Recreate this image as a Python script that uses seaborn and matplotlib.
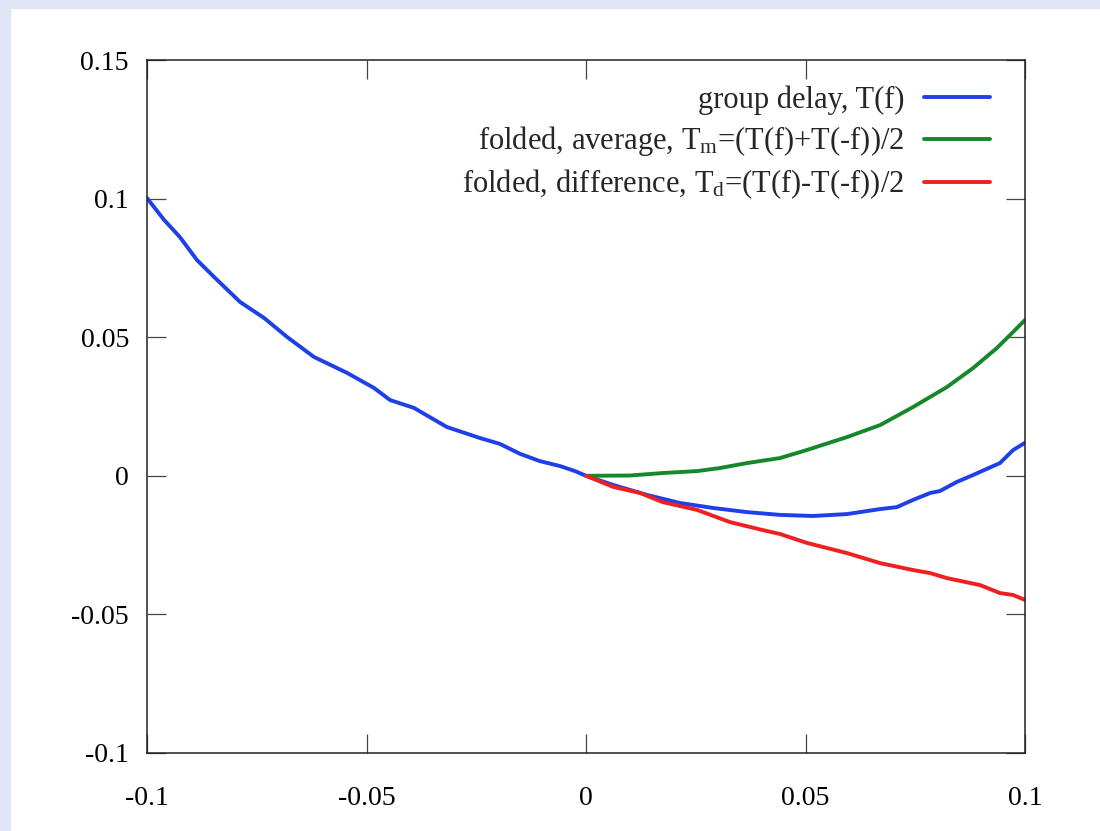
import numpy as np
import pandas as pd
import matplotlib
matplotlib.use("Agg")
import matplotlib.pyplot as plt
import seaborn as sns
from matplotlib.patches import Rectangle

# group delay T(f)
f_t = [-0.1, -0.0961, -0.0925, -0.0886, -0.0847, -0.0788, -0.0733, -0.0681,
       -0.0620, -0.0544, -0.0483, -0.0446, -0.0392, -0.0317, -0.0241, -0.0196,
       -0.0150, -0.0105, -0.0059, -0.0025, 0.0, 0.0062, 0.0139, 0.0214, 0.0289,
       0.0367, 0.0442, 0.0517, 0.0595, 0.0670, 0.0708, 0.0745, 0.0784, 0.0806,
       0.0845, 0.0882, 0.0943, 0.0973, 0.1]
t_vals = [0.1002, 0.0923, 0.0861, 0.0778, 0.0717, 0.0627, 0.0569, 0.0501,
          0.0429, 0.0371, 0.0317, 0.0273, 0.0245, 0.0176, 0.0136, 0.0115,
          0.0079, 0.0053, 0.0035, 0.0017, 0.0, -0.0033, -0.0069, -0.0098, -0.0116,
          -0.0131, -0.0141, -0.0145, -0.0138, -0.0120, -0.0113, -0.0087, -0.0062, -0.0055,
          -0.0022, 0.0003, 0.0046, 0.0093, 0.0119]

# folded average T_m
f_m = [0.0, 0.0100, 0.0175, 0.0253, 0.0305, 0.0367, 0.0442, 0.0503, 0.0595,
       0.0670, 0.0745, 0.0822, 0.0882, 0.0936, 0.0973, 0.1]
tm_vals = [0.0, 0.0001, 0.0010, 0.0017, 0.0028, 0.0046, 0.0064, 0.0093, 0.0140,
           0.0183, 0.0248, 0.0320, 0.0389, 0.0461, 0.0519, 0.0562]

# folded difference T_d
f_d = [0.0, 0.0062, 0.0123, 0.0175, 0.0253, 0.0328, 0.0403, 0.0442, 0.0503,
       0.0595, 0.0670, 0.0745, 0.0784, 0.0822, 0.0897, 0.0943, 0.0973, 0.1]
td_vals = [0.0, -0.0040, -0.0062, -0.0095, -0.0123, -0.0167, -0.0196, -0.0210, -0.0242,
           -0.0279, -0.0315, -0.0340, -0.0351, -0.0369, -0.0394, -0.0423, -0.0430, -0.0448]

labels = ["group delay, T(f)",
          r"folded, average, $T_m$=(T(f)+T(-f))/2",
          r"folded, difference, $T_d$=(T(f)-T(-f))/2"]
colors = ["#1f3fe8", "#15882b", "#ee2020"]

x_ticks = [-0.1, -0.05, 0, 0.05, 0.1]
x_tick_labels = ["-0.1", "-0.05", "0", "0.05", "0.1"]
y_ticks = [-0.1, -0.05, 0, 0.05, 0.1, 0.15]
y_tick_labels = ["-0.1", "-0.05", "0", "0.05", "0.1", "0.15"]

df = pd.concat([
    pd.DataFrame({"f": f_t, "T": t_vals, "series": labels[0]}),
    pd.DataFrame({"f": f_m, "T": tm_vals, "series": labels[1]}),
    pd.DataFrame({"f": f_d, "T": td_vals, "series": labels[2]}),
], ignore_index=True)

sns.set_theme(style="ticks")
plt.rcParams["font.family"] = ["Liberation Serif", "DejaVu Serif"]
plt.rcParams["mathtext.fontset"] = "custom"
plt.rcParams["mathtext.rm"] = "Liberation Serif"
plt.rcParams["mathtext.it"] = "Liberation Serif"

fig = plt.figure(figsize=(11, 8.31), dpi=100)
fig.patch.set_facecolor("white")
# light blue page border on the left and top
fig.patches.append(Rectangle((0, 0), 0.009, 1, transform=fig.transFigure,
                             color="#e1e6f7", zorder=0))
fig.patches.append(Rectangle((0, 0.99), 1, 0.01, transform=fig.transFigure,
                             color="#e1e6f7", zorder=0))
ax = fig.add_axes([147 / 1100, 78 / 831, 878 / 1100, 693 / 831])

sns.lineplot(data=df, x="f", y="T", hue="series", palette=colors,
             linewidth=2.8, ax=ax, sort=False, estimator=None)

ax.set_xlim(-0.1, 0.1)
ax.set_ylim(-0.1, 0.15)
ax.set_xticks(x_ticks)
ax.set_xticklabels(x_tick_labels)
ax.set_yticks(y_ticks)
ax.set_yticklabels(y_tick_labels)
ax.set_xlabel("")
ax.set_ylabel("")
ax.tick_params(direction="in", length=14, width=0.9, color="#444444",
               top=True, right=True, labelsize=20, labelcolor="black")
ax.tick_params(axis="x", pad=24)
ax.tick_params(axis="y", pad=13)
for sp in ax.spines.values():
    sp.set_visible(True)
    sp.set_color("#222222")
    sp.set_linewidth(1.1)

leg = ax.legend(loc="upper right", bbox_to_anchor=(0.960, 0.963), frameon=False,
                markerfirst=False, fontsize=22, handlelength=2.15,
                handletextpad=0.65, labelspacing=0.3, borderpad=0,
                borderaxespad=0)

fig.savefig("out.png", dpi=100, facecolor=fig.get_facecolor())
